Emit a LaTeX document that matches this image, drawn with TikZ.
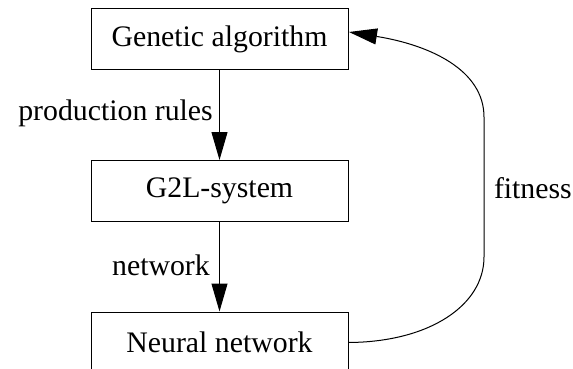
\documentclass[tikz,border=0pt]{standalone}
\usepackage{fontspec}
\setmainfont{Liberation Serif}
\usetikzlibrary{arrows.meta}
\begin{document}
\begin{tikzpicture}[x=1pt,y=-1pt,
  box/.style={draw,line width=1pt,minimum width=257pt,minimum height=61pt,inner sep=0pt,font=\fontsize{29.8}{36}\selectfont},
  lbl/.style={inner sep=0pt,font=\fontsize{29.8}{36}\selectfont},
  arr/.style={line width=1pt,-{Triangle[length=28pt,width=16pt]}}]
\useasboundingbox (0,0) rectangle (573,369);
\clip (0,0) rectangle (573,369);
\node[box] (ga) at (219.5,39.5) {Genetic algorithm};
\node[box] (g2l) at (219.5,191) {G2L-system};
\node[box] (nn) at (219.5,342.5) {Neural network};
\draw[arr] (ga) -- (g2l);
\draw[arr] (g2l) -- (nn);
\coordinate (tip) at (349,32);
\draw[arr] (nn.east) .. controls (430,342) and (484,305) .. (484,257) -- (484,117) .. controls (484,70) and (430,45) .. (tip);
\node[lbl,anchor=east] (pr) at (213,113) {production rules};
\node[lbl,anchor=east] (nw) at (210,265) {network};
\node[lbl,anchor=east] (fit) at (572,188) {fitness};
\end{tikzpicture}
\end{document}
